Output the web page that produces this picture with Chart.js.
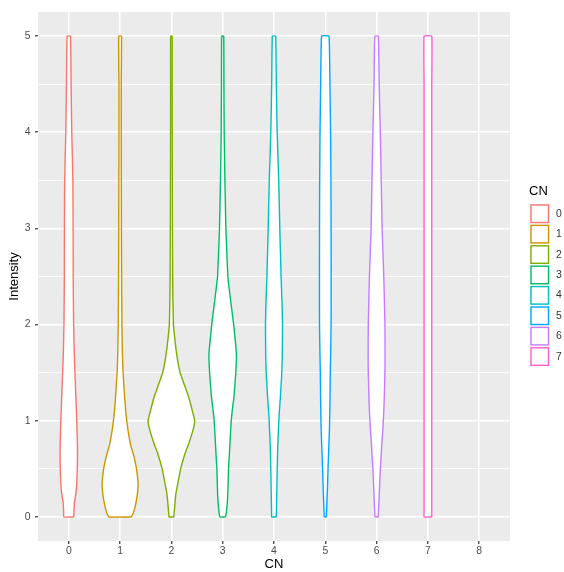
<!DOCTYPE html>
<html>
<head>
<meta charset="utf-8">
<script src="https://cdn.jsdelivr.net/npm/chart.js@4.4.1/dist/chart.umd.min.js"></script>
<style>
  html, body { margin: 0; padding: 0; background: #fff; }
  #wrap { width: 564px; height: 572px; position: relative; }
</style>
</head>
<body>
<div id="wrap"><canvas id="violinChart"></canvas></div>
<script>
// CN groups and axis ticks
const cnLabels = ['0', '1', '2', '3', '4', '5', '6', '7'];
const xTickValues = [0, 1, 2, 3, 4, 5, 6, 7, 8];
const yTickValues = [0, 1, 2, 3, 4, 5];
const violinColors = ['#F8766D', '#CD9600', '#7CAE00', '#00BE67', '#00BFC4', '#00A9FF', '#C77CFF', '#FF61CC'];

// Intensity levels where the violin half-widths were read (in CN units)
const intensityGrid = [0, 0.05, 0.15, 0.25, 0.35, 0.5, 0.65, 0.75, 0.9, 1, 1.1, 1.25, 1.5, 1.65, 1.75, 2, 2.25, 2.5, 3, 3.5, 4, 4.5, 5];
const halfWidth0 = [0.097, 0.1, 0.11, 0.14, 0.155, 0.166, 0.17, 0.168, 0.16, 0.156, 0.148, 0.138, 0.12, 0.11, 0.104, 0.094, 0.09, 0.086, 0.085, 0.08, 0.058, 0.045, 0.033];
const halfWidth1 = [0.22, 0.265, 0.31, 0.34, 0.35, 0.32, 0.26, 0.205, 0.155, 0.13, 0.11, 0.088, 0.058, 0.048, 0.043, 0.036, 0.032, 0.03, 0.026, 0.024, 0.022, 0.022, 0.028];
const halfWidth2 = [0.045, 0.055, 0.07, 0.09, 0.125, 0.18, 0.26, 0.33, 0.42, 0.455, 0.41, 0.335, 0.17, 0.115, 0.088, 0.04, 0.03, 0.025, 0.02, 0.018, 0.016, 0.015, 0.015];
const halfWidth3 = [0.055, 0.072, 0.09, 0.1, 0.105, 0.113, 0.13, 0.14, 0.155, 0.166, 0.185, 0.22, 0.255, 0.269, 0.26, 0.214, 0.155, 0.1, 0.062, 0.043, 0.029, 0.024, 0.02];
const halfWidth4 = [0.045, 0.047, 0.051, 0.054, 0.058, 0.063, 0.069, 0.074, 0.086, 0.094, 0.105, 0.125, 0.152, 0.16, 0.163, 0.166, 0.155, 0.138, 0.113, 0.092, 0.062, 0.045, 0.033];
const halfWidth5 = [0.02, 0.024, 0.032, 0.038, 0.045, 0.053, 0.063, 0.07, 0.08, 0.084, 0.088, 0.092, 0.097, 0.103, 0.106, 0.113, 0.114, 0.114, 0.113, 0.11, 0.103, 0.09, 0.072];
const halfWidth6 = [0.033, 0.036, 0.045, 0.052, 0.06, 0.072, 0.09, 0.1, 0.12, 0.13, 0.14, 0.15, 0.162, 0.165, 0.165, 0.162, 0.152, 0.14, 0.107, 0.09, 0.072, 0.05, 0.035];
const halfWidth7 = [0.075, 0.075, 0.075, 0.075, 0.075, 0.075, 0.075, 0.075, 0.075, 0.075, 0.075, 0.075, 0.075, 0.075, 0.075, 0.075, 0.075, 0.075, 0.075, 0.075, 0.075, 0.075, 0.075];
const halfWidths = [halfWidth0, halfWidth1, halfWidth2, halfWidth3, halfWidth4, halfWidth5, halfWidth6, halfWidth7];

const FONT = 'Liberation Sans, Arial, sans-serif';

// closed outline: right side upwards, left side back down
function violinOutline(center, hw){
  const right = intensityGrid.map((y, k) => ({ x: center + hw[k], y }));
  const left = intensityGrid.map((y, k) => ({ x: center - hw[k], y })).reverse();
  const pts = right.concat(left);
  pts.push(pts[0]);
  return pts;
}

// tension > 0 keeps chart.js off its "fast path", which merges points sharing an x pixel
const datasets = cnLabels.map((lab, i) => ({
  label: lab,
  data: violinOutline(+lab, halfWidths[i]),
  showLine: true,
  borderColor: violinColors[i],
  borderWidth: 1.4,
  borderJoinStyle: 'round',
  fill: false,
  pointRadius: 0,
  pointHoverRadius: 0,
  tension: 0.08
}));

// grey panel like ggplot
const panelBg = {
  id: 'panelBg',
  beforeDraw(chart){
    const { ctx, chartArea: a } = chart;
    ctx.save();
    ctx.fillStyle = '#EBEBEB';
    ctx.fillRect(a.left, a.top, a.right - a.left, a.bottom - a.top);
    ctx.restore();
  }
};

// white violin bodies, using the points the scales placed
const violinFill = {
  id: 'violinFill',
  beforeDatasetsDraw(chart){
    const ctx = chart.ctx;
    ctx.save();
    ctx.fillStyle = '#ffffff';
    chart.data.datasets.forEach((ds, i) => {
      const pts = chart.getDatasetMeta(i).data;
      if (!pts.length) return;
      ctx.beginPath();
      pts.forEach((p, k) => k ? ctx.lineTo(p.x, p.y) : ctx.moveTo(p.x, p.y));
      ctx.closePath();
      ctx.fill();
    });
    ctx.restore();
  }
};

// legend on the right, drawn by hand
const sideLegend = {
  id: 'sideLegend',
  afterDraw(chart){
    const ctx = chart.ctx;
    ctx.save();
    ctx.fillStyle = '#000';
    ctx.font = '13px ' + FONT;
    ctx.textBaseline = 'middle';
    ctx.textAlign = 'left';
    ctx.fillText('CN', 529, 191);
    ctx.font = '10.4px ' + FONT;
    cnLabels.forEach((lab, i) => {
      const y0 = 204.5 + i * 20.4;
      ctx.fillStyle = '#F2F2F2';
      ctx.fillRect(530, y0 - 0.5, 19.5, 19.5);
      ctx.fillStyle = '#fff';
      ctx.fillRect(531, y0 + 0.5, 17.5, 17.5);
      ctx.strokeStyle = violinColors[i];
      ctx.lineWidth = 1.4;
      ctx.strokeRect(531, y0 + 0.5, 17.5, 17.5);
      ctx.fillStyle = '#333';
      ctx.fillText(lab, 556, y0 + 9.5);
    });
    ctx.restore();
  }
};

const isMajor = v => Number.isInteger(Math.round(v * 1000) / 1000);

new Chart(document.getElementById('violinChart'), {
  type: 'scatter',
  data: { datasets },
  plugins: [panelBg, violinFill, sideLegend],
  options: {
    responsive: true,
    maintainAspectRatio: false,
    animation: false,
    layout: { padding: { top: 12, right: 54, left: 0, bottom: 0 } },
    plugins: { legend: { display: false }, tooltip: { enabled: false } },
    scales: {
      x: {
        type: 'linear',
        min: -0.6,
        max: 8.6,
        afterBuildTicks: s => { s.ticks = xTickValues.map(v => ({ value: v })); },
        afterFit: s => { s.height = 31; },
        border: { display: false },
        grid: { color: '#ffffff', lineWidth: 1.5, tickLength: 3, tickColor: '#333333', tickWidth: 1.2 },
        ticks: { color: '#4D4D4D', font: { family: FONT, size: 10.4 }, padding: 1, maxRotation: 0, callback: v => String(v) },
        title: { display: true, text: 'CN', color: '#000', font: { family: FONT, size: 13 }, padding: { top: 0, bottom: 0 } }
      },
      y: {
        type: 'linear',
        min: -0.25,
        max: 5.25,
        afterBuildTicks: s => {
          const t = [];
          yTickValues.forEach((v, i) => {
            t.push({ value: v });
            if (i < yTickValues.length - 1) t.push({ value: (v + yTickValues[i + 1]) / 2 });
          });
          s.ticks = t;
        },
        afterFit: s => { s.width = 38; },
        border: { display: false },
        grid: {
          color: '#ffffff',
          lineWidth: c => isMajor(c.tick.value) ? 1.5 : 0.8,
          tickLength: 3,
          tickColor: c => isMajor(c.tick.value) ? '#333333' : 'rgba(0,0,0,0)',
          tickWidth: 1.2
        },
        ticks: { color: '#4D4D4D', font: { family: FONT, size: 10.4 }, padding: 4.5, callback: v => isMajor(v) ? String(v) : '' },
        title: { display: true, text: 'Intensity', color: '#000', font: { family: FONT, size: 13 }, padding: { top: 7, bottom: 0 } }
      }
    }
  }
});
</script>
</body>
</html>
